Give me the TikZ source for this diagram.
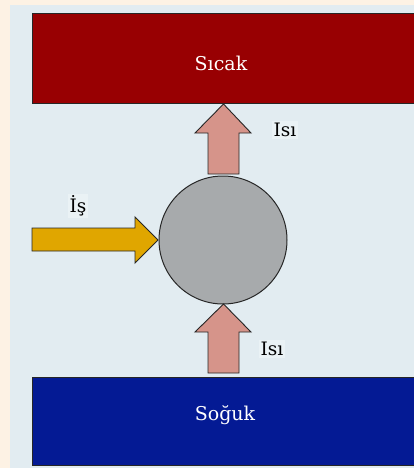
\documentclass[tikz,border=0pt]{standalone}
\usepackage{fontspec}
\setmainfont{DejaVu Serif}
\definecolor{cream}{HTML}{FDF2E4}
\definecolor{panel}{HTML}{E2ECF1}
\definecolor{patch}{HTML}{EAF2F5}
\definecolor{hotred}{HTML}{980002}
\definecolor{coldblue}{HTML}{041A94}
\definecolor{heatpink}{HTML}{D6948A}
\definecolor{workgold}{HTML}{E0A600}
\definecolor{bodygray}{HTML}{A7AAAC}
\begin{document}
\begin{tikzpicture}[x=1pt,y=-1pt,
  reservoir/.style={draw=black!85,line width=1pt,inner sep=0pt,anchor=north west},
  blockarrow/.style={draw=black!85,line width=0.9pt,line join=miter},
  bigtext/.style={text=white,font=\fontsize{19}{21}\selectfont},
  label/.style={font=\fontsize{18.5}{20}\selectfont,fill=patch,inner sep=2pt}]
\fill[cream] (0,0) rectangle (414,468);
\fill[panel] (10,5) rectangle (414,468);
\useasboundingbox (0,0) rectangle (414,468);
% reservoirs
\node[reservoir,fill=hotred,minimum width=382pt,minimum height=90pt] (hot) at (32,13) {};
\node[reservoir,fill=coldblue,minimum width=382pt,minimum height=88pt] (cold) at (32,377) {};
\node[bigtext] (hotlbl) at (221,63) {Sıcak};
\node[bigtext] (coldlbl) at (225,415) {Soğuk};
% engine
\node[circle,draw=black!85,line width=1pt,fill=bodygray,minimum size=128pt,inner sep=0pt] (eng) at (223,240) {};
% heat arrow up to hot
\draw[blockarrow,fill=heatpink] (208,174) -- (208,133) -- (195,133) -- (223.5,104) -- (251,133) -- (239,133) -- (239,174) -- cycle;
% heat arrow from cold
\draw[blockarrow,fill=heatpink] (208,373) -- (208,332) -- (195,332) -- (223.5,304) -- (251,332) -- (239,332) -- (239,373) -- cycle;
% work arrow
\draw[blockarrow,fill=workgold] (32,228) -- (135,228) -- (135,217) -- (158,240) -- (135,263) -- (135,251) -- (32,251) -- cycle;
% labels
\node[label] (heatA) at (285,130) {Isı};
\node[label] (heatB) at (272,349) {Isı};
\node[label] (work) at (78,206) {İş};
\end{tikzpicture}
\end{document}
